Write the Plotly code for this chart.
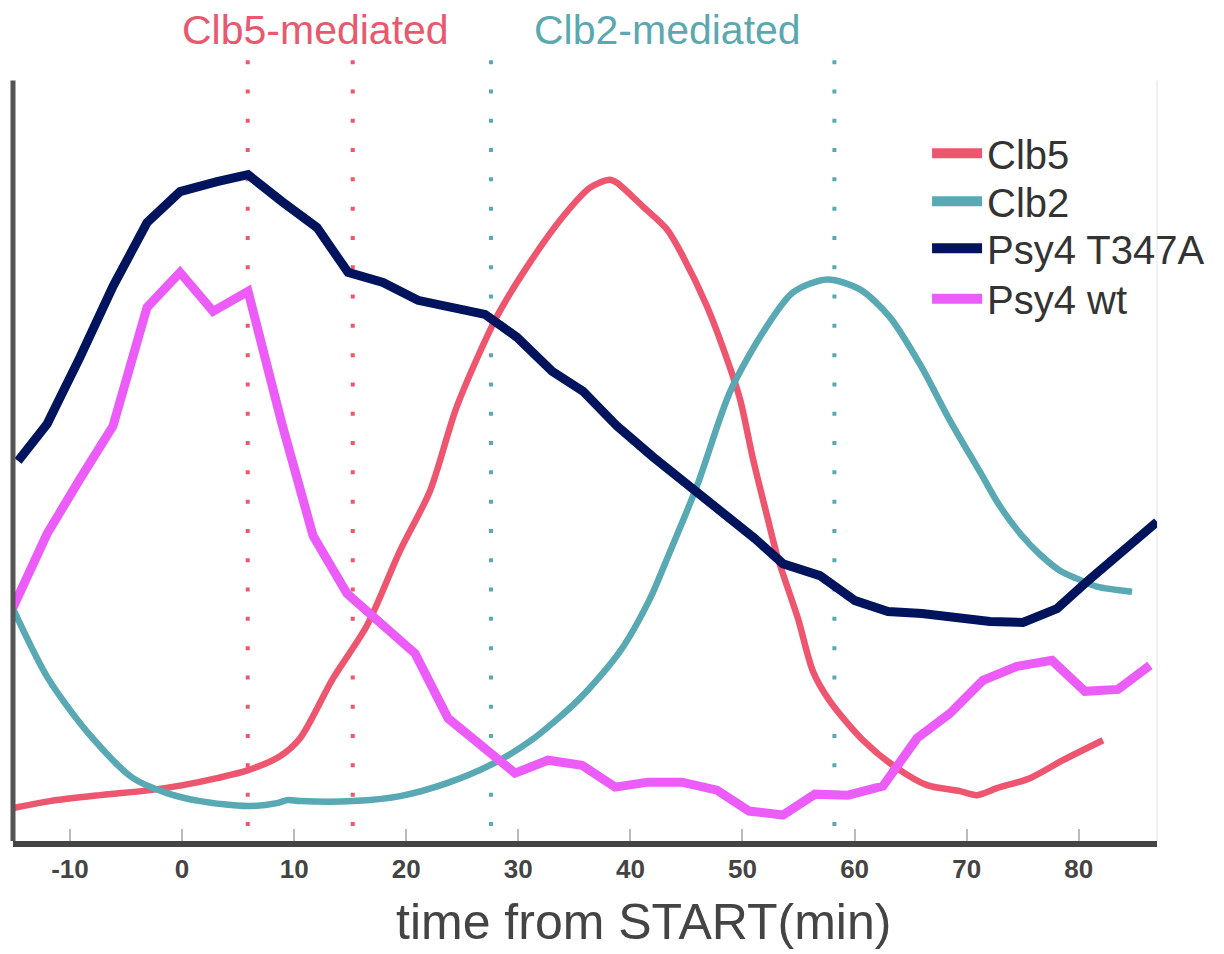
import plotly.graph_objects as go

# ---------------- data (time in min, relative level 0-100) ----------------
clb5_t = [-15.08, -11.78, -7.31, -2.85, 0.09, 3.12, 5.89, 8.74, 10.53, 13.47, 16.50,
          19.45, 22.12, 24.53, 28.10, 31.04, 33.99, 36.40, 38.18, 38.80, 41.12, 43.27,
          44.69, 46.83, 48.62, 49.78, 50.94, 52.19, 53.17, 54.95, 56.29, 57.81, 60.75,
          63.78, 66.46, 69.40, 70.92, 72.70, 75.65, 78.59, 82.16]
clb5_v = [4.34, 5.26, 6.05, 6.71, 7.37, 8.29, 9.34, 11.18, 13.55, 21.45, 28.42,
          38.29, 46.18, 57.37, 69.21, 76.32, 82.37, 86.18, 87.24, 86.84, 83.68, 80.66,
          77.11, 70.53, 63.55, 58.29, 50.39, 42.89, 37.24, 29.34, 22.37, 18.42, 13.29,
          9.61, 7.37, 6.58, 6.05, 6.97, 8.29, 10.66, 13.29]

clb2_t = [-15.08, -11.95, -8.21, -4.37, -1.34, 1.61, 5.80, 8.47, 9.37, 10.53, 15.25,
          19.45, 23.64, 27.48, 31.04, 35.50, 39.07, 41.75, 43.27, 45.94, 48.88, 51.83,
          54.51, 57.54, 60.48, 63.16, 65.83, 68.51, 71.19, 73.00, 74.78, 76.56, 78.33,
          79.84, 81.62, 84.75]
clb2_v = [30.66, 21.45, 13.95, 8.29, 6.32, 5.26, 4.61, 5.00, 5.39, 5.26, 5.26,
          5.92, 7.63, 10.00, 13.16, 18.82, 25.00, 31.97, 37.24, 46.84, 59.21, 67.11,
          72.37, 74.08, 72.76, 69.08, 62.89, 55.46, 48.68, 44.08, 40.53, 37.76, 35.66,
          34.61, 33.55, 32.89]

t347a_t = [-14.63, -12.04, -9.10, -6.16, -3.12, -0.18, 3.12, 5.89, 8.92, 12.04, 14.81,
           17.93, 21.05, 24.17, 27.03, 29.88, 33.01, 35.77, 38.80, 42.02, 45.32, 47.99,
           51.12, 53.61, 56.91, 60.04, 62.98, 66.01, 69.13, 72.08, 75.02, 78.06, 80.73,
           83.85, 86.98]
t347a_v = [50.13, 55.00, 63.82, 73.16, 81.58, 85.66, 86.97, 87.89, 84.34, 80.92, 75.00,
           73.68, 71.32, 70.26, 69.47, 66.45, 61.97, 59.34, 54.74, 50.66, 46.71, 43.82,
           39.87, 36.58, 35.00, 31.71, 30.26, 30.00, 29.34, 28.95, 28.82, 30.66, 34.21,
           38.16, 42.10]

wt_t = [-15.08, -12.04, -9.10, -6.16, -3.12, -0.18, 2.77, 5.89, 8.92, 11.69, 14.72,
        17.75, 20.79, 23.73, 26.76, 29.71, 32.65, 35.68, 38.63, 41.57, 44.60, 47.73,
        50.58, 53.61, 56.47, 59.41, 62.53, 65.57, 68.51, 71.45, 74.49, 77.61, 80.55,
        83.50, 86.35]
wt_v = [30.79, 40.53, 47.76, 54.74, 70.39, 75.00, 69.87, 72.50, 55.00, 40.26, 32.63,
        28.55, 24.74, 16.18, 12.50, 8.95, 10.66, 10.00, 7.11, 7.76, 7.76, 6.71,
        3.95, 3.42, 6.18, 6.05, 7.24, 13.55, 16.84, 21.18, 23.03, 23.82, 19.74,
        20.00, 23.16]

series_names = ["Clb5", "Clb2", "Psy4 T347A", "Psy4 wt"]
clb5_window = [5.86, 15.23]
clb2_window = [27.56, 58.2]
x_ticks = [-10, 0, 10, 20, 30, 40, 50, 60, 70, 80]

# ---------------- style ----------------
RED = "#EE5670"
TEAL = "#58A9B3"
NAVY = "#00145E"
MAGENTA = "#EB5CF8"
FONT = "Liberation Sans"
X_RANGE = [-15.08, 86.98]
Y_RANGE = [0, 103.68]

colors = [RED, TEAL, NAVY, MAGENTA]
widths = [6.5, 6.5, 9, 9]
shapes_ = ["spline", "spline", "linear", "linear"]
xs = [clb5_t, clb2_t, t347a_t, wt_t]
ys = [clb5_v, clb2_v, t347a_v, wt_v]
legend_ids = ["legend", "legend2", "legend3", "legend4"]

fig = go.Figure()
for name, c, w, sh, xv, yv in zip(series_names, colors, widths, shapes_, xs, ys):
    line = dict(color=c, width=w, shape=sh)
    if sh == "spline":
        line["smoothing"] = 0.8
    fig.add_trace(go.Scatter(x=xv, y=yv, mode="lines", name=name, line=line,
                             showlegend=False))
# legend entries (uniformly thick key lines, as in the reference)
for name, c, lid in zip(series_names, colors, legend_ids):
    fig.add_trace(go.Scatter(x=[None], y=[None], mode="lines", name=name,
                             line=dict(color=c, width=10), legend=lid, showlegend=True))

shapes = []
for xv in clb5_window:
    shapes.append(dict(type="line", xref="x", yref="y", x0=xv, x1=xv, y0=103.0, y1=1.5,
                       line=dict(color=RED, width=4, dash="4px,25.3px"), layer="below"))
for xv in clb2_window:
    shapes.append(dict(type="line", xref="x", yref="y", x0=xv, x1=xv, y0=103.0, y1=1.5,
                       line=dict(color=TEAL, width=4, dash="4px,25.3px"), layer="below"))
axis_top = 100.3 / Y_RANGE[1]
shapes.append(dict(type="line", xref="paper", yref="paper", x0=0, x1=0, y0=0, y1=axis_top,
                   line=dict(color="#555555", width=5)))
shapes.append(dict(type="line", xref="paper", yref="paper", x0=1, x1=1, y0=0, y1=axis_top,
                   line=dict(color="#E2E2E2", width=1), layer="below"))

annotations = [
    dict(text="Clb5-mediated", x=11.95, xref="x", y=1.032, yref="paper", showarrow=False,
         xanchor="center", yanchor="middle", font=dict(family=FONT, size=41, color="#E8586E")),
    dict(text="Clb2-mediated", x=43.3, xref="x", y=1.032, yref="paper", showarrow=False,
         xanchor="center", yanchor="middle", font=dict(family=FONT, size=41, color="#5BA8B1")),
    dict(text="time from START(min)", x=0.5507, xref="paper", y=-0.103, yref="paper",
         showarrow=False, xanchor="center", yanchor="middle",
         font=dict(family=FONT, size=50, color="#444444")),
]

legend_y = [0.875, 0.814, 0.754, 0.690]
legend_common = dict(x=0.799, xanchor="left", yanchor="middle",
                     font=dict(family=FONT, size=40, color="#333333"),
                     bgcolor="rgba(0,0,0,0)", itemwidth=50)

fig.update_layout(
    width=1224, height=954,
    margin=dict(l=5, r=75, t=47, b=121),
    paper_bgcolor="white", plot_bgcolor="white",
    shapes=shapes, annotations=annotations,
    showlegend=True,
    legend=dict(y=legend_y[0], **legend_common),
    legend2=dict(y=legend_y[1], **legend_common),
    legend3=dict(y=legend_y[2], **legend_common),
    legend4=dict(y=legend_y[3], **legend_common),
    xaxis=dict(range=X_RANGE, tickvals=x_ticks, ticktext=[str(v) for v in x_ticks],
               showgrid=False, zeroline=False, showline=True, linecolor="#444444",
               linewidth=6, ticks="inside", ticklen=12, tickwidth=2, tickcolor="#BBBBBB",
               tickfont=dict(family=FONT, size=26, color="#444444", weight="bold")),
    yaxis=dict(range=Y_RANGE, visible=False),
)

fig.write_html("out.html")
